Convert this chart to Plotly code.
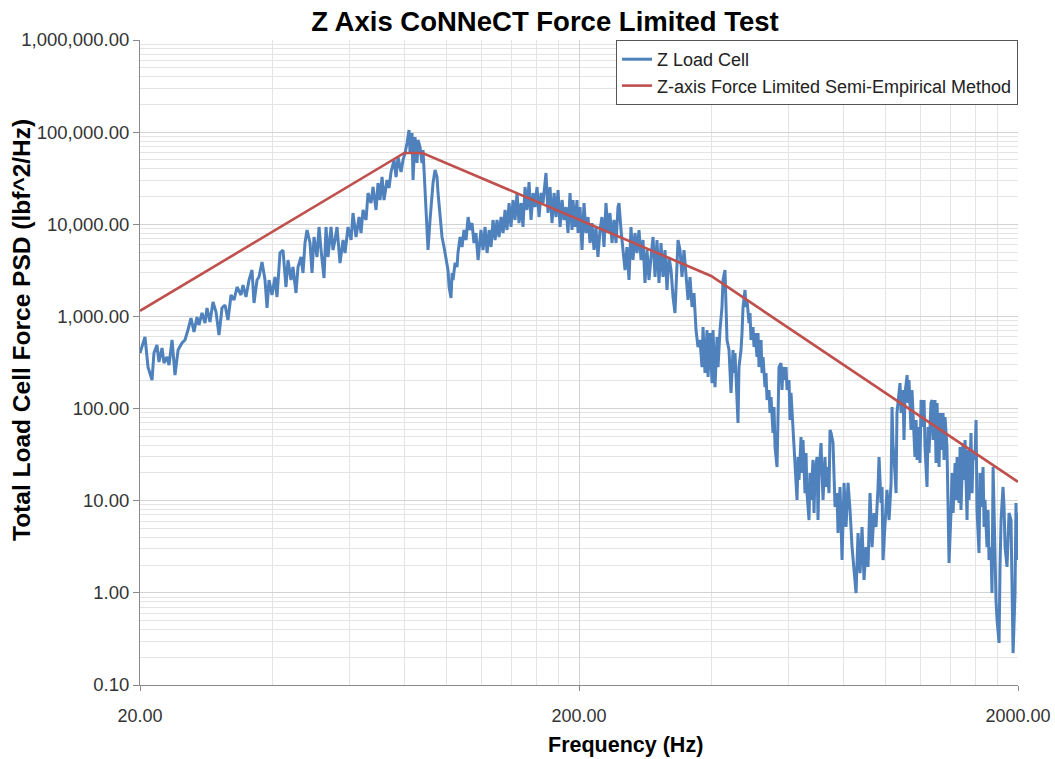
import plotly.graph_objects as go

# ---------------- data ----------------
load_cell_freq_hz = [
    20.0, 20.32, 20.53, 20.86, 21.30, 21.52, 21.86, 22.09, 22.45, 22.68,
    23.04, 23.29, 23.66, 24.03, 24.42, 24.93, 25.32, 25.72, 26.13, 26.55,
    26.97, 27.25, 27.69, 28.13, 28.42, 28.87, 29.33, 29.80, 30.27, 30.75,
    31.24, 31.73, 32.24, 32.75, 33.27, 33.97, 34.33, 34.87, 35.43, 35.99,
    36.37, 36.95, 37.33, 37.93, 38.53, 38.94, 39.35, 39.97, 40.60, 41.03,
    41.68, 42.34, 43.01, 43.47, 44.16, 44.62, 45.33, 45.81, 46.54, 47.03,
    47.52, 48.03, 48.79, 49.30, 49.82, 50.61, 51.15, 51.69, 52.51, 53.06,
    53.62, 54.47, 55.04, 55.63, 56.21, 57.10, 58.01, 58.62, 59.55, 60.50,
    61.13, 62.10, 63.09, 63.76, 64.43, 65.45, 66.14, 67.19, 67.90, 68.98,
    69.70, 70.44, 71.18, 71.93, 73.07, 73.84, 74.62, 75.81, 76.61, 77.41,
    78.64, 79.47, 80.31, 81.16, 82.01, 82.44, 83.31, 83.75, 84.63, 85.53,
    85.98,
    86.88, 87.79, 88.26, 89.19, 90.13, 90.60, 91.56, 92.52, 93.01, 93.99,
    94.98, 95.48, 96.49, 97.50, 98.53, 99.57, 100.6, 101.2, 102.2, 102.8,
    103.3, 104.4, 105.5, 106.0, 107.2, 108.3, 109.4, 110.6, 111.8, 112.9,
    114.1, 115.3, 116.5, 117.8, 119.6, 120.9, 122.2, 123.5, 124.8, 126.1,
    127.4, 128.8, 130.1, 131.5, 132.9, 134.3, 135.7, 137.1, 138.6, 140.0,
    141.5, 143.0, 144.5, 146.0, 147.6, 149.1, 150.7, 152.3, 153.9, 155.5,
    157.2, 158.8, 160.5, 162.2, 163.9, 165.6, 167.4, 168.2, 170.0, 171.8,
    173.6, 175.5, 177.3, 179.2, 181.1, 183.0, 184.9, 186.9, 188.8,
    190.8, 192.8, 193.8, 195.9, 197.9, 199.0, 201.1, 203.2, 205.3, 207.5,
    209.7, 211.9, 214.1, 216.4, 218.6, 220.9, 223.3, 225.6, 228.0, 230.4,
    232.9, 235.3, 237.8, 240.3, 242.9, 245.4, 246.7, 249.3, 252.0, 254.6,
    257.2, 260.0, 262.7, 265.5, 268.3, 271.1, 274.0, 276.9, 279.8, 282.7,
    285.7, 288.7, 291.8, 294.9, 298.0, 301.1, 304.3, 307.5, 310.7, 314.0,
    317.3, 320.7, 324.1, 327.5, 330.9, 334.4, 336.2, 339.7, 343.3, 346.9,
    350.6, 354.3, 358.0, 361.8, 365.6, 369.5, 373.3,
    377.3, 381.3, 383.3, 387.3, 391.4, 393.5, 397.6, 401.8, 403.9, 408.2,
    412.5, 414.7, 419.0, 423.4, 425.7, 430.1, 432.4, 434.7, 439.3, 441.6,
    443.9, 448.6, 450.9, 453.3, 458.1, 460.5, 462.9, 467.8, 470.3, 472.8,
    477.7, 480.3, 482.8, 487.9, 490.4, 493.0, 498.2, 500.8, 503.5, 508.8,
    511.5, 514.1, 519.6, 522.3, 525.1, 530.6, 533.4, 536.2, 541.8, 544.7,
    547.6, 553.3, 556.2, 559.2, 565.1, 568.0, 571.0, 577.0, 580.1, 583.1,
    589.3, 592.4, 595.5, 601.8, 604.9, 608.1, 614.5, 617.8, 621.0, 627.6,
    630.9, 634.2, 640.9, 644.2, 647.6, 654.4, 657.9, 661.3, 668.3, 671.8,
    675.4, 682.5, 686.1, 689.7, 697.0, 700.6, 704.3, 711.8, 715.5, 719.3,
    726.8, 730.7, 734.5, 742.3, 746.2, 750.1, 758.0, 762.0, 766.0, 774.1,
    778.1,
    786.4, 794.7, 803.1, 811.6, 820.1, 828.8, 837.5, 846.3, 855.3, 864.3,
    873.4, 882.6, 891.9, 901.3, 910.8, 920.4, 930.1, 939.9, 949.8, 959.8,
    964.9, 975.0, 980.2, 985.3, 995.7, 1006, 1017, 1028, 1033, 1038,
    1049, 1055, 1060, 1072, 1077, 1083, 1094, 1100, 1106, 1118,
    1123, 1129, 1141, 1147, 1153, 1165, 1172, 1178, 1190, 1196,
    1203, 1215, 1222, 1228, 1241, 1248, 1254, 1267, 1274, 1281,
    1294, 1301, 1308, 1322, 1329, 1336, 1350, 1357, 1364, 1378,
    1386, 1393, 1408, 1415, 1423, 1438, 1445, 1453, 1468, 1476,
    1483, 1499, 1507, 1515, 1531, 1539, 1547, 1563, 1572, 1580,
    1596, 1605, 1613, 1630, 1639, 1648, 1665, 1674, 1682, 1700,
    1709, 1718, 1736, 1745, 1755, 1773, 1782, 1792, 1811, 1820,
    1830, 1849, 1859, 1869, 1888, 1898, 1908, 1928, 1938, 1949,
    1969, 1979, 1989, 2000,
]

load_cell_psd = [
    401, 515, 598, 282, 204, 401, 490, 320, 454, 312,
    363, 297, 555, 231, 432, 515, 555, 712, 961, 677,
    986, 807, 1090, 848, 1234, 870, 1434, 1117, 628, 1234,
    1330, 915, 1708, 1508, 2086, 1708, 2193, 1625, 2485, 3190,
    1399, 2485, 2678, 3895, 2485, 1234, 2485, 1708, 2678, 1625,
    4879, 5259, 2086, 4096, 2485, 3439, 1796, 3439, 4415, 2960,
    6264, 8667, 6264, 2960, 7278, 4415, 9344, 5259, 2612, 9344,
    4415, 9344, 5259, 6750, 9344, 3799, 6750, 4879, 9344, 6750,
    13260, 7278, 11995, 8044, 14290, 11130, 21860, 17020, 25390, 14290,
    28050, 18340, 32600, 18340, 30240, 24760, 36940, 49850, 32600, 53740,
    36940, 49850, 59380, 76240, 105500, 59380, 97890, 30240, 88560, 46260,
    82150,
    68990, 46260, 64000, 25390, 11130, 5259, 11130, 21860, 28050, 38830,
    32600, 21860, 11995, 7278, 5667, 4096, 3190, 2086, 1585, 2960,
    2485, 3799, 3439, 4879, 7278, 5667, 8667, 6750, 11995, 8667,
    10320, 6264, 8044, 4096, 8667, 5259, 9344, 4879, 8667, 5667,
    11130, 6750, 11130, 7278, 11995, 8044, 14290, 8667, 17020, 9344,
    18340, 11130, 21860, 10320, 17020, 9344, 25390, 14290, 28770, 11130,
    21860, 15400, 25390, 11995, 21860, 17020, 30240, 36030, 13260, 25390,
    10320, 21860, 11995, 23550, 9344, 18340, 11130, 15400, 8044,
    21860, 8667, 18340, 9344, 18340, 8044, 15400, 5259, 17020, 8044,
    11995, 6264, 10320, 5259, 9344, 4415, 8667, 11995, 5667, 17020,
    8044, 13260, 6264, 11130, 6264, 15400, 17020, 8667, 5259, 3190,
    5667, 2485, 9344, 4096, 8044, 4879, 8667, 4096, 6750, 2305,
    5259, 2485, 4415, 7278, 2678, 6750, 2305, 6264, 2678, 5259,
    1935, 4415, 3190, 1625, 1090, 4096, 6750, 5259, 2678, 5259,
    2485, 1508, 2678, 1265, 1796, 712, 466,
    555, 282, 768, 243, 712, 220, 661, 189, 712, 171,
    598, 282, 712, 1265, 2485, 3190, 1508, 555, 432, 282,
    148, 432, 243, 401, 124, 69.7, 282, 432, 661, 1265,
    1935, 1265, 1508, 848, 1090, 555, 768, 466, 661, 363,
    661, 282, 555, 243, 363, 171, 243, 124, 159, 89.5,
    133.5, 54.3, 104, 38.3, 23.2, 89.5, 282, 312, 159, 282,
    204, 282, 159, 204, 75.1, 148, 63.1, 45.6, 23.2, 10.2,
    29.8, 16.8, 49.1, 20.0, 45.6, 12.1, 32.9, 12.1, 6.17, 20.0,
    10.2, 27.7, 7.35, 20.0, 29.8, 6.17, 20.0, 42.3, 20.0, 10.2,
    29.8, 14.1, 23.2, 12.1, 58.5, 54.3, 42.3, 20.0, 8.55, 12.1,
    4.46,
    14.1, 2.27, 15.6, 5.18, 15.6, 7.93, 3.14, 1.91, 0.996, 4.46,
    1.64, 5.18, 1.38, 3.14, 1.91, 12.1, 3.14, 7.35, 5.18, 14.1,
    29.8, 9.44, 14.1, 2.27, 5.18, 13.1, 6.17, 15.6, 104, 42.3,
    20.0, 12.1, 89.5, 159, 189, 89.5, 159, 45.6, 148, 231,
    115, 204, 58.5, 159, 89.5, 29.8, 75.1, 27.7, 63.1, 25.7,
    124, 63.1, 124, 38.3, 14.1, 63.1, 32.9, 115, 124, 45.6,
    124, 25.7, 115, 23.2, 89.5, 35.5, 89.5, 27.7, 81.0, 38.3,
    8.55, 2.11, 7.93, 20.0, 7.35, 25.7, 10.2, 29.8, 9.44, 38.3,
    7.93, 42.3, 16.8, 45.6, 6.17, 35.5, 10.2, 54.3, 12.1, 32.9,
    27.7, 75.1, 7.93, 2.71, 20.0, 8.55, 23.2, 5.18, 10.2, 3.14,
    7.93, 2.27, 3.14, 0.996, 23.2, 2.27, 0.836, 0.507, 0.286, 1.91,
    6.17, 14.1, 8.55, 3.14, 1.91, 3.75, 7.35, 6.17, 0.702, 0.222,
    0.996, 9.44, 2.27, 7.35,
]

limit_freq_hz = [20, 80, 88, 400, 2000]
limit_psd = [1150, 59400, 59400, 2750, 16]

y_tick_values = [0.1, 1, 10, 100, 1000, 10000, 100000, 1000000]
y_tick_labels = ["0.10", "1.00", "10.00", "100.00", "1,000.00",
                 "10,000.00", "100,000.00", "1,000,000.00"]
x_tick_values = [20, 200, 2000]
x_tick_labels = ["20.00", "200.00", "2000.00"]
x_minor_grid = [40, 60, 80, 100, 120, 140, 160, 180,
                400, 600, 800, 1000, 1200, 1400, 1600, 1800]
y_minor_grid = [k * 10.0 ** e for e in range(-1, 6) for k in range(2, 10)]

series_names = ["Z Load Cell", "Z-axis Force Limited Semi-Empirical Method"]

# ---------------- figure ----------------
FIG_W, FIG_H = 1055, 759
L, T, R, B = 140, 40, 37, 74
PW, PH = FIG_W - L - R, FIG_H - T - B

FONT = "Liberation Sans, Arial, sans-serif"
BLUE = "#4f81bd"
RED = "#c0504d"
GRID_MAJOR = "#d2d2d2"
GRID_MINOR = "#e4e4e4"
AXIS = "#8a8a8a"

fig = go.Figure()
fig.add_trace(go.Scatter(
    x=load_cell_freq_hz, y=load_cell_psd, mode="lines", name=series_names[0],
    line=dict(color=BLUE, width=3)))
fig.add_trace(go.Scatter(
    x=limit_freq_hz, y=limit_psd, mode="lines", name=series_names[1],
    line=dict(color=RED, width=2.6)))

fig.update_layout(
    width=FIG_W, height=FIG_H,
    margin=dict(l=L, r=R, t=T, b=B, autoexpand=False),
    paper_bgcolor="white", plot_bgcolor="white",
    font=dict(family=FONT, color="#222222"),
    title=dict(text="<b>Z Axis CoNNeCT Force Limited Test</b>",
               font=dict(family=FONT, size=27.5, color="black"),
               x=545 / FIG_W, xref="container", xanchor="center",
               y=1 - 21 / FIG_H, yref="container", yanchor="middle"),
    legend=dict(x=1, xanchor="right", y=1, yanchor="top",
                bgcolor="white", bordercolor="#555555", borderwidth=1,
                font=dict(family=FONT, size=18, color="#222222"),
                itemwidth=30, tracegroupgap=0),
    xaxis=dict(type="log", range=[1.30103, 3.30103],
               tickmode="array", tickvals=x_tick_values, ticktext=x_tick_labels,
               tickfont=dict(family=FONT, size=18, color="#333333"),
               showgrid=True, gridcolor=GRID_MAJOR, gridwidth=1,
               showline=True, linecolor=AXIS, linewidth=1,
               ticks="outside", ticklen=5, tickcolor=AXIS,
               ticklabelstandoff=9, zeroline=False,
               minor=dict(tickmode="array", tickvals=x_minor_grid,
                          showgrid=True, gridcolor=GRID_MINOR, ticks="")),
    yaxis=dict(type="log", range=[-1, 6],
               tickmode="array", tickvals=y_tick_values, ticktext=y_tick_labels,
               tickfont=dict(family=FONT, size=18.5, color="#333333"),
               showgrid=True, gridcolor=GRID_MAJOR, gridwidth=1,
               showline=True, linecolor=AXIS, linewidth=1,
               ticks="outside", ticklen=6, tickcolor=AXIS,
               zeroline=False,
               minor=dict(tickmode="array", tickvals=y_minor_grid,
                          showgrid=True, gridcolor=GRID_MINOR, ticks="")),
    annotations=[
        dict(text="<b>Total Load Cell Force PSD (lbf^2/Hz)</b>",
             xref="paper", yref="paper",
             x=(21 - L) / PW, y=(T + PH - 330) / PH,
             xanchor="center", yanchor="middle", textangle=-90,
             showarrow=False, font=dict(family=FONT, size=24.5, color="black")),
        dict(text="<b>Frequency (Hz)</b>",
             xref="paper", yref="paper",
             x=(625 - L) / PW, y=(T + PH - 745) / PH,
             xanchor="center", yanchor="middle",
             showarrow=False, font=dict(family=FONT, size=21.5, color="black")),
    ],
)

# remove the browser's default 8 px page margin so the figure fills the window
fig.write_html("out.html",
               config={"displayModeBar": False},
               post_script="document.body.style.margin='0';"
                           "document.body.style.padding='0';")
